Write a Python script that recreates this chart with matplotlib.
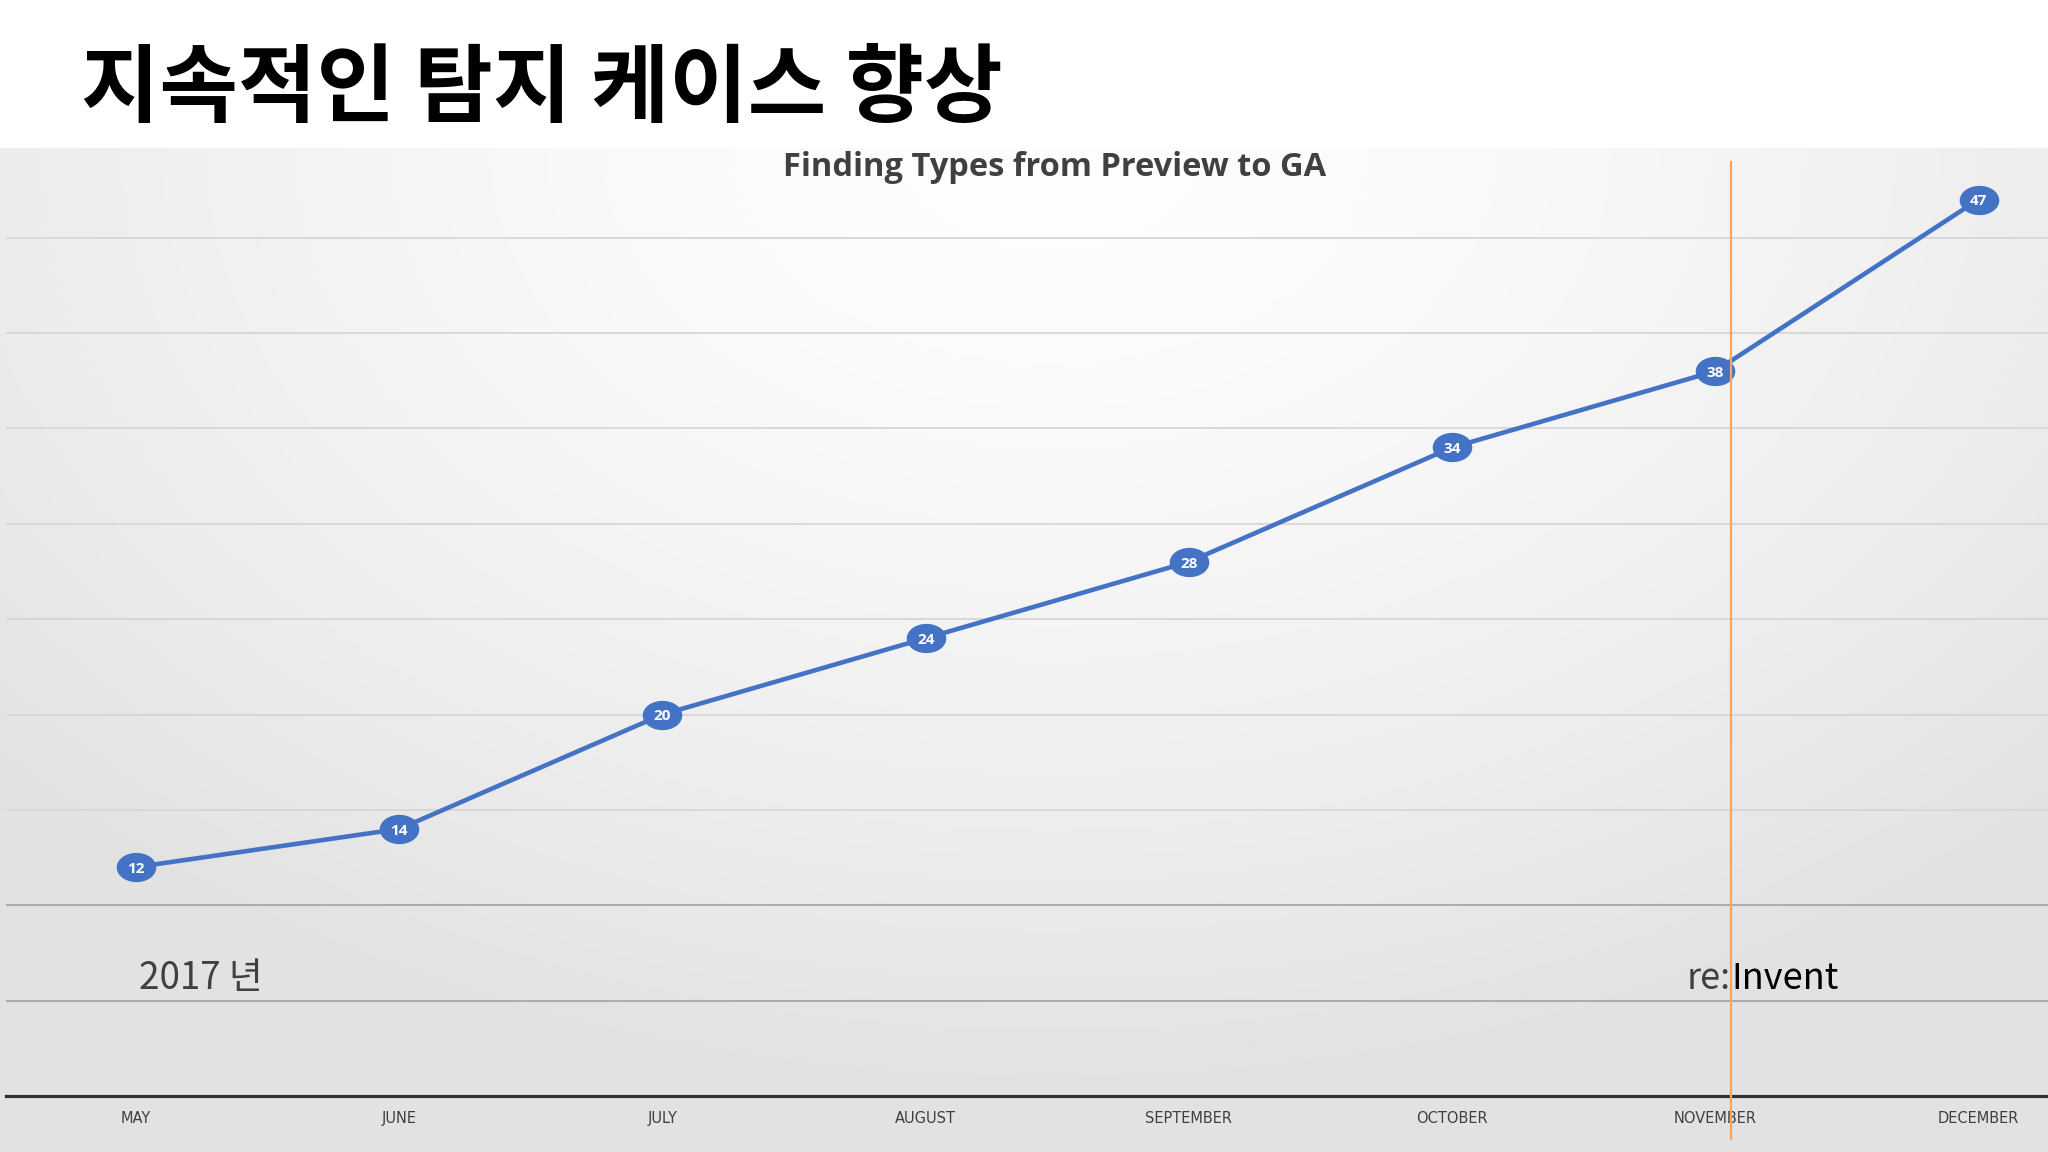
import numpy as np
import matplotlib
matplotlib.use("Agg")
import matplotlib.pyplot as plt
from matplotlib.path import Path
from matplotlib.markers import MarkerStyle

# données
mois = ["MAY", "JUNE", "JULY", "AUGUST", "SEPTEMBER", "OCTOBER", "NOVEMBER", "DECEMBER"]
types = [12, 14, 20, 24, 28, 34, 38, 47]
grille = [5, 10, 15, 20, 25, 30, 35, 40, 45]

titre = "지속적인 탐지 케이스 향상"
titre_graphe = "Finding Types from Preview to GA"
reinvent_x = 6.06          # position de la ligne re:Invent (juste après novembre)

bleu = "#4472C4"
cjk = ["Noto Sans CJK KR", "DejaVu Sans"]

fig = plt.figure(figsize=(20.48, 11.52), dpi=100)
fig.patch.set_facecolor("white")

# fond en dégradé (radial, clair en haut au centre)
W, H = 2048, 1004
xx, yy = np.meshgrid(np.arange(W), np.arange(H))
r = np.sqrt(((xx - 1050) / 1410.0) ** 2 + (yy / 950.0) ** 2)
gris = (254 - 28 * np.clip(r, 0, 1) ** 1.5) / 255.0
img = np.clip(np.dstack([gris, gris, gris * 1.003]), 0, 1)
ax_bg = fig.add_axes([0, 0, 1, 1004 / 1152])
ax_bg.imshow(img, aspect="auto", interpolation="bilinear")
ax_bg.axis("off")

# titre coréen
fig.text(81 / 2048, 1 - 90 / 1152, titre, fontsize=61.4, fontweight="bold",
         family=cjk, va="center", ha="left", color="black")

ax = fig.add_axes([6 / 2048, 1 - 1096 / 1152, 1 - 6 / 2048, (1096 - 148) / 1152])
ax.set_facecolor("none")
x = np.arange(len(mois))
ax.set_xlim(-0.494, 7.264)
ax.set_ylim(0, 49.7)

# lignes de grille
for g in grille:
    c = "#a6a6a6" if g <= 10 else "#d6d6d6"
    ax.axhline(g, color=c, lw=1.3, zorder=1)

for s in ["top", "left", "right"]:
    ax.spines[s].set_visible(False)
ax.spines["bottom"].set_color("#303030")
ax.spines["bottom"].set_linewidth(2.3)
ax.set_yticks([])
ax.set_xticks(x)
ax.set_xticklabels(mois, fontsize=10.5, color="#404040",
                   family=["Liberation Sans Narrow", "DejaVu Sans"])
ax.tick_params(axis="x", length=0, pad=11)

# courbe + marqueurs ellipses
ell = Path.unit_circle()
ell = Path(ell.vertices * np.array([1.37, 1.0]), ell.codes)
ax.plot(x, types, color=bleu, lw=3.3, zorder=3, solid_capstyle="round")
ax.plot(x, types, ls="none", marker=MarkerStyle(ell), markersize=27.5,
        color=bleu, markeredgecolor=bleu, zorder=4)
for xi, v in zip(x, types):
    ax.text(xi, v - 0.1, str(v), color="white", fontsize=11, fontweight="bold",
            family="Open Sans", ha="center", va="center", zorder=5)

# titre du graphe
fig.text(1055 / 2048, 1 - 168 / 1152, titre_graphe, fontsize=23.5, fontweight="bold",
         family="Open Sans", color="#404040", ha="center", va="center")

# ligne re:Invent
ax.axvline(reinvent_x, ymin=-0.045, ymax=0.985, color="#F2A565", lw=1.6,
           clip_on=False, zorder=6)
ax.text(reinvent_x, 6.15, "re:", fontsize=26, color="#404040", ha="right", va="center",
        family=cjk, fontweight="light", zorder=7)
ax.text(reinvent_x, 6.15, "Invent", fontsize=26, color="black", ha="left", va="center",
        family=cjk, fontweight="light", zorder=7)

ax.text(0.01, 6.15, "2017 년", fontsize=26.5, color="#404040", ha="left", va="center",
        family=cjk, fontweight="light", zorder=7)

plt.savefig("out.png", dpi=100)
